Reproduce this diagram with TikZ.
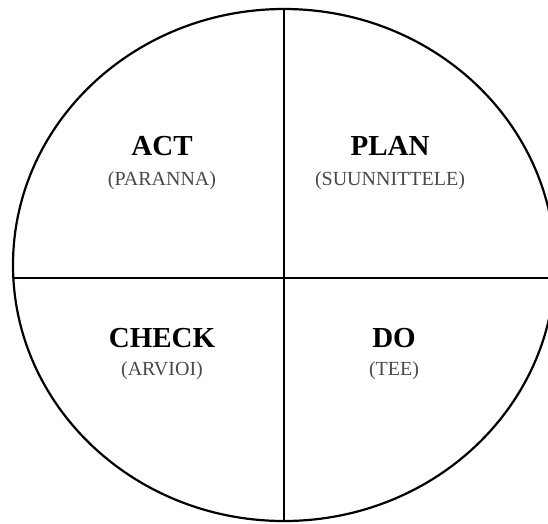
\documentclass[tikz,border=0pt]{standalone}
\usepackage{fontspec}
\setmainfont{Liberation Serif}
\usepackage{tikz}
\usetikzlibrary{positioning}
\definecolor{subgrey}{HTML}{484848}

\begin{document}
\begin{tikzpicture}[x=1pt, y=-1pt, node distance=15pt,
    phase/.style={font=\fontsize{29}{29}\selectfont\bfseries, inner sep=0pt, anchor=base},
    finnish/.style={font=\fontsize{20}{20}\selectfont, text=subgrey, inner sep=0pt,
                    text height=15pt, text depth=5pt},
    rim/.style={line width=2.2pt}]
  \useasboundingbox (0,0) rectangle (548,523);
  \clip (0,0) rectangle (548,523);
  % cycle outline and its four quarters
  \draw[rim] (284,265) ellipse [x radius=271, y radius=256];
  \coordinate (top) at (284,9);
  \coordinate (bottom) at (284,521);
  \coordinate (left) at (13.4,278);
  \coordinate (right) at (554.6,278);
  \draw[rim] (top) -- (bottom);
  \draw[rim] (left) -- (right);
  % phases
  \node[phase] (act) at (162,155) {ACT};
  \node[finnish, below=of act] (act-fi) {(PARANNA)};
  \node[phase] (plan) at (390,155) {PLAN};
  \node[finnish, below=of plan] (plan-fi) {(SUUNNITTELE)};
  \node[phase] (check) at (162,347) {CHECK};
  \node[finnish, below=13pt of check] (check-fi) {(ARVIOI)};
  \node[phase] (do) at (394,347) {DO};
  \node[finnish, below=13pt of do] (do-fi) {(TEE)};
\end{tikzpicture}
\end{document}
